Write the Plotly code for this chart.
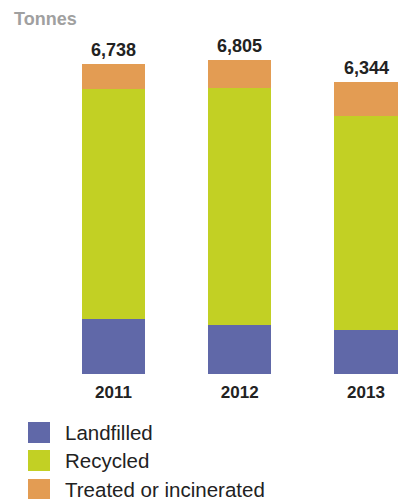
import plotly.graph_objects as go

# Waste by disposal route, tonnes
years = ["2011", "2012", "2013"]
landfilled = [1183, 1059, 956]
recycled = [4997, 5138, 4646]
treated = [558, 608, 742]
totals = [6738, 6805, 6344]

series_names = ["Landfilled", "Recycled", "Treated or incinerated"]
colors = ["#6068A8", "#C2D024", "#E39C53"]

W, H = 400, 499
BASE = 374          # pixel row of the zero line
PX_PER_UNIT = 0.04608
FONT = "Liberation Sans, Arial, sans-serif"

fig = go.Figure()
for name, vals, col in zip(series_names, [landfilled, recycled, treated], colors):
    fig.add_trace(go.Bar(
        x=years, y=vals, name=name, marker=dict(color=col, line=dict(width=0)),
        width=0.5, showlegend=False, hoverinfo="skip",
    ))

# totals above each stack
for i, tot in enumerate(totals):
    fig.add_annotation(
        x=i, y=tot, xref="x", yref="y", text=f"<b>{tot:,}</b>", showarrow=False,
        yanchor="bottom", yshift=2,
        font=dict(family=FONT, size=18, color="#222222"),
    )

def py(pix):
    return (BASE - pix) / BASE

# unit label
fig.add_annotation(
    xref="paper", yref="paper", x=12 / W, y=py(19.5), text="<b>Tonnes</b>",
    showarrow=False, xanchor="left", yanchor="middle",
    font=dict(family=FONT, size=18, color="#A0A0A0"),
)

# key
key_tops = [422, 450, 479]
for name, col, top in zip(series_names, colors, key_tops):
    fig.add_shape(
        type="rect", xref="paper", yref="paper",
        x0=28 / W, x1=50 / W, y0=py(top + 21), y1=py(top),
        fillcolor=col, line=dict(width=0),
    )
    fig.add_annotation(
        xref="paper", yref="paper", x=63 / W, y=py(top + 10), text=name,
        showarrow=False, xanchor="left", yanchor="middle",
        font=dict(family=FONT, size=20.5, color="#222222"),
    )

px_unit = 126.25
x0_px = 113.5
fig.update_layout(
    width=W, height=H, barmode="stack",
    margin=dict(l=0, r=0, t=0, b=H - BASE),
    paper_bgcolor="white", plot_bgcolor="white",
    xaxis=dict(
        type="category", range=[-x0_px / px_unit, (W - x0_px) / px_unit],
        showgrid=False, zeroline=False, showline=False, ticks="",
        ticklabelstandoff=6,
        tickfont=dict(family=FONT, size=17, color="#222222", weight="bold"),
    ),
    yaxis=dict(
        range=[0, BASE / PX_PER_UNIT], visible=False, showgrid=False, zeroline=False,
    ),
)

fig.write_html("out.html")
